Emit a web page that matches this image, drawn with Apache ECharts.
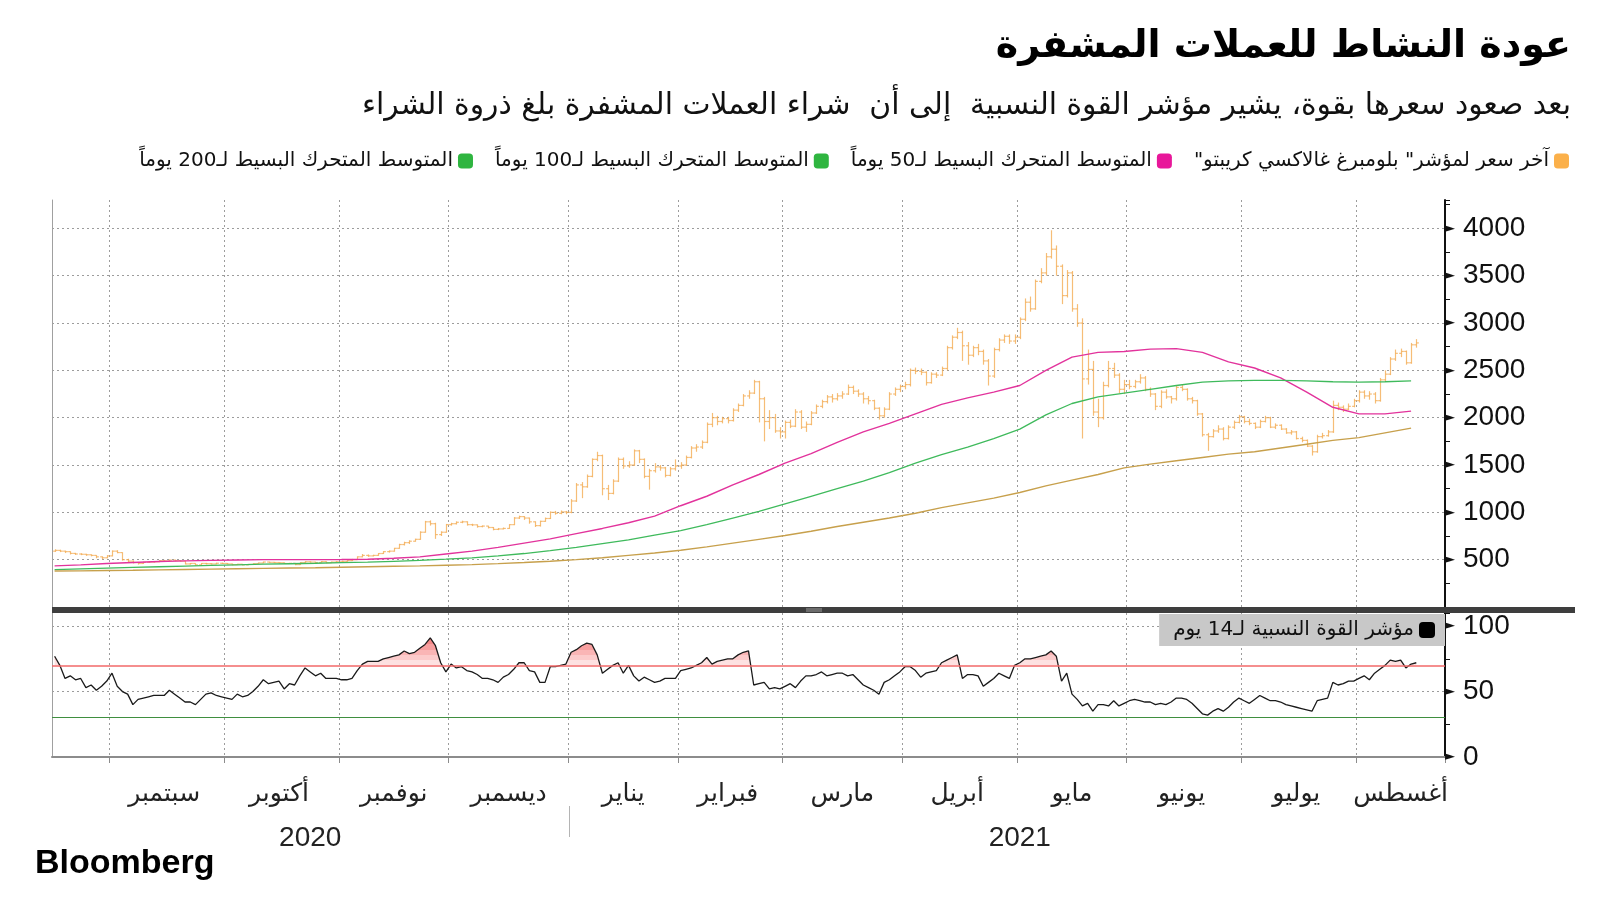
<!DOCTYPE html>
<html dir="rtl">
<head>
<meta charset="utf-8">
<script src="https://cdn.jsdelivr.net/npm/echarts/dist/echarts.min.js"></script>
<style>html,body{margin:0;padding:0;background:#fff}#c{width:1600px;height:900px}</style>
</head>
<body>
<div id="c"></div>
<script>
// ---------------- text ----------------
const TITLE = 'عودة النشاط للعملات المشفرة';
const SUBTITLE = 'بعد صعود سعرها بقوة، يشير مؤشر القوة النسبية  إلى أن  شراء العملات المشفرة بلغ ذروة الشراء';
const SERIES_NAMES = [
  'آخر سعر لمؤشر" بلومبرغ غالاكسي كريبتو"',
  'المتوسط المتحرك البسيط لـ50 يوماً',
  'المتوسط المتحرك البسيط لـ100 يوماً',
  'المتوسط المتحرك البسيط لـ200 يوماً',
  'مؤشر القوة النسبية لـ14 يوم'
];
const MONTH_NAMES = ['يناير','فبراير','مارس','أبريل','مايو','يونيو','يوليو','أغسطس','سبتمبر','أكتوبر','نوفمبر','ديسمبر'];
const SOURCE = 'Bloomberg';

// ---------------- axis ----------------
const FIRST_DAY = '2020-08-17';   // first trading day shown
const LAST_DAY = '2021-08-24';    // last category on the axis (axis runs a little past the data)
const YEAR_LABEL_AT = ['2020-10-23', '2021-05-03'];
const PRICE_TICKS = [500, 1000, 1500, 2000, 2500, 3000, 3500, 4000];
const RSI_TICKS = [0, 50, 100];
const RSI_OVERBOUGHT = 70;
const RSI_OVERSOLD = 30;

// ---------------- daily OHLC (weekdays, from 2020-08-17) ----------------
const open = [
  590,598,590,585,566,560,557,552,545,530,520,
  540,590,575,500,485,470,460,472,475,478,490,488,495,490,485,455,460,445,460,458,455,462,
  460,455,448,452,445,450,458,465,475,472,470,468,460,462,448,470,478,475,470,480,468,475,
  478,482,490,500,530,545,540,545,565,585,590,620,660,680,695,715,790,900,880,765,790,
  870,880,895,900,870,868,850,855,840,820,825,830,870,940,955,940,900,860,905,935,1000,990,1005,
  1000,1120,1290,1270,1380,1560,1600,1250,1200,1330,1560,1490,1500,1650,1560,1380,1440,1480,1470,1390,1460,
  1490,1500,1580,1680,1690,1740,1930,2000,1960,1990,1970,2080,2130,2230,2260,2380,2200,1960,2000,1860,
  1850,1950,1910,2060,1900,1930,2050,2120,2170,2220,2200,2230,2250,2320,2280,2250,2200,2180,2100,2020,2090,2250,2300,
  2330,2350,2500,2490,2480,2370,2460,2450,2520,2740,2850,2900,2760,2660,2740,2700,2600,2440,2720,2820,2860,2810,
  2850,3040,3220,3150,3440,3530,3700,3780,3600,3290,3530,3150,3000,2410,2510,2060,2000,2340,2520,2450,2300,
  2350,2330,2380,2420,2300,2250,2120,2270,2220,2200,2320,2300,2200,2180,2040,1820,1800,1860,1880,1780,1900,1950,
  2010,1960,1940,1900,1960,2000,1900,1920,1880,1840,1850,1780,1760,1700,1640,1800,1810,1850,2130,2110,2090,2120,
  2180,2270,2230,2250,2180,2400,2460,2620,2680,2700,2580,2770
];
const close = [
  598,590,585,566,560,557,552,545,530,520,540,
  590,575,500,485,470,460,472,475,478,490,488,495,490,485,455,460,445,460,458,455,462,460,
  455,448,452,445,450,458,465,475,472,470,468,460,462,448,470,478,475,470,480,468,475,478,
  482,490,500,530,545,540,545,565,585,590,620,660,680,695,715,790,900,880,765,790,870,
  880,895,900,870,868,850,855,840,820,825,830,870,940,955,940,900,860,905,935,1000,990,1005,1000,
  1120,1290,1270,1380,1560,1600,1250,1200,1330,1560,1490,1500,1650,1560,1380,1440,1480,1470,1390,1460,1490,
  1500,1580,1680,1690,1740,1930,2000,1960,1990,1970,2080,2130,2230,2260,2380,2200,1960,2000,1860,1850,
  1950,1910,2060,1900,1930,2050,2120,2170,2220,2200,2230,2250,2320,2280,2250,2200,2180,2100,2020,2090,2250,2300,2330,
  2350,2500,2490,2480,2370,2460,2450,2520,2740,2850,2900,2760,2660,2740,2700,2600,2440,2720,2820,2860,2810,2850,
  3040,3220,3150,3440,3530,3700,3780,3600,3290,3530,3150,3000,2410,2510,2060,2000,2340,2520,2450,2300,2350,
  2330,2380,2420,2300,2250,2120,2270,2220,2200,2320,2300,2200,2180,2040,1820,1800,1860,1880,1780,1900,1950,2010,
  1960,1940,1900,1960,2000,1900,1920,1880,1840,1850,1780,1760,1700,1640,1800,1810,1850,2130,2110,2090,2120,2180,
  2270,2230,2250,2180,2400,2460,2620,2680,2700,2580,2770,2790
];
const high = [
  610,605,595,588,572,568,562,556,548,535,548,
  598,600,578,510,492,475,478,482,485,495,498,502,500,495,488,465,462,465,466,462,468,468,
  465,458,456,455,455,462,470,480,478,476,472,470,466,465,475,485,482,478,486,482,480,485,
  490,496,508,535,560,555,552,570,590,598,625,668,690,705,722,800,910,915,890,800,878,
  890,905,912,905,880,872,862,858,845,835,840,875,950,965,960,945,905,912,945,1010,1015,1020,1015,
  1140,1310,1320,1400,1570,1640,1610,1290,1350,1580,1580,1540,1665,1660,1570,1460,1520,1500,1480,1480,1560,
  1530,1600,1700,1720,1760,1950,2050,2020,2010,2010,2100,2150,2250,2290,2400,2390,2220,2080,2040,1900,
  1970,1980,2090,2080,1960,2070,2140,2190,2240,2250,2260,2280,2350,2340,2300,2270,2230,2190,2110,2110,2270,2320,2350,
  2380,2520,2530,2520,2490,2480,2480,2540,2760,2870,2950,2920,2800,2760,2780,2720,2620,2740,2840,2880,2880,2880,
  3060,3260,3280,3460,3580,3740,3980,3820,3620,3560,3550,3200,3050,2720,2600,2200,2380,2600,2580,2470,2400,
  2400,2400,2460,2440,2320,2260,2290,2300,2230,2340,2350,2310,2220,2190,2050,1840,1880,1920,1900,1920,1970,2030,
  2020,1990,1950,1980,2020,2010,1940,1930,1890,1870,1860,1800,1770,1710,1820,1840,1870,2180,2160,2130,2150,2200,
  2290,2290,2280,2270,2420,2500,2640,2720,2730,2710,2790,2830
];
const low = [
  582,580,570,555,550,548,540,535,515,505,515,
  535,568,490,465,460,448,455,465,468,474,482,484,484,480,450,448,438,442,450,448,452,454,
  450,440,444,440,442,448,455,462,466,465,460,455,456,442,445,466,468,462,468,462,465,470,
  472,478,486,498,525,530,535,540,560,575,585,615,650,665,690,710,785,860,720,750,785,
  860,872,885,860,855,838,842,830,810,812,820,825,865,930,920,880,845,850,900,930,975,980,980,
  990,1110,1150,1260,1370,1540,1180,1130,1190,1320,1460,1470,1490,1520,1360,1240,1420,1440,1370,1380,1440,
  1460,1490,1570,1640,1670,1730,1900,1920,1940,1940,1960,2060,2120,2200,2250,1950,1750,1880,1840,1780,
  1780,1890,1900,1880,1850,1920,2040,2100,2150,2160,2180,2200,2240,2250,2220,2150,2140,2080,1980,2000,2080,2230,2270,
  2300,2330,2460,2450,2340,2360,2420,2440,2500,2720,2830,2600,2560,2640,2660,2560,2340,2420,2700,2790,2780,2780,
  2830,3020,3120,3140,3420,3500,3680,3500,3200,3270,3120,2960,1780,2350,2020,1900,1980,2320,2420,2260,2250,
  2300,2310,2360,2280,2220,2080,2100,2200,2150,2180,2280,2180,2150,2020,1800,1650,1790,1840,1760,1770,1880,1940,
  1940,1920,1880,1890,1950,1890,1880,1870,1830,1820,1770,1740,1690,1600,1630,1780,1800,1840,2080,2060,2080,2110,
  2160,2200,2190,2150,2170,2380,2450,2600,2640,2560,2570,2740
];

// ---------------- simple moving averages, read every 5th trading day ----------------
const MA_STEP = 5;
const sma50 = [
  435,445,460,470,480,487,493,497,500,500,
  500,502,505,515,530,560,590,630,675,720,
  775,830,890,960,1070,1170,1290,1400,1520,1620,
  1740,1850,1940,2040,2140,2210,2270,2340,2500,2640,
  2690,2700,2725,2730,2690,2590,2525,2420,2270,2110,
  2040,2040,2070
];
const sma100 = [
  395,402,410,418,425,432,440,446,452,457,
  462,468,475,483,492,505,520,540,565,595,
  630,670,710,760,808,870,940,1010,1090,1170,
  1250,1330,1420,1520,1610,1690,1780,1880,2030,2150,
  2220,2260,2300,2340,2375,2390,2395,2395,2390,2380,
  2375,2380,2390
];
const sma200 = [
  380,382,385,388,392,396,400,404,408,412,
  415,420,425,430,435,441,448,458,470,484,
  500,520,545,570,600,635,675,715,755,800,
  850,895,940,990,1050,1100,1150,1210,1280,1340,
  1400,1470,1510,1545,1580,1615,1640,1680,1720,1760,
  1790,1840,1890
];

// ---------------- 14-day RSI (daily) ----------------
const rsi = [
  77,70,60,62,59,60,53,55,51,54,58,
  64,54,50,48,40,44,45,46,47,47,47,51,48,45,42,42,40,44,48,49,47,46,
  45,44,48,46,47,50,54,59,56,57,58,52,56,55,62,68,65,62,64,60,60,60,
  59,59,60,66,71,73,73,73,75,76,77,78,81,79,80,83,86,91,85,72,65,
  71,68,69,66,65,63,60,60,59,57,61,63,67,72,72,66,65,57,57,69,69,70,71,
  80,82,85,87,86,78,64,67,70,72,64,70,62,58,61,59,57,58,60,60,60,
  66,67,68,70,72,76,71,73,74,75,75,78,80,81,55,56,57,52,53,52,
  54,56,53,58,62,62,63,65,62,63,64,64,62,63,59,55,53,51,48,57,59,62,65,
  69,69,66,61,64,65,66,72,74,76,78,60,63,63,62,54,57,60,64,62,60,70,
  72,75,75,76,77,78,81,77,58,64,48,44,39,41,35,40,40,39,43,39,41,
  43,44,43,42,42,40,41,40,42,45,45,44,41,37,33,32,35,37,35,38,42,45,
  43,41,44,47,45,43,43,42,40,39,38,37,36,35,43,44,45,57,55,56,58,58,
  60,62,59,64,67,70,74,73,74,68,71,72
];

// ---------------- styling ----------------
const AR = "'DejaVu Sans', sans-serif";
const NUM = "'Liberation Sans', Arial, sans-serif";
const C_PRICE = '#f4ad55';
const C_SMA50 = '#e2339c';
const C_SMA100 = '#3fba5c';
const C_SMA200 = '#c7a04c';
const LEGEND_COLORS = ['#fbb04a', '#e8179a', '#2fb540', '#2fb540', '#000000'];
const GRID_COLOR = '#9c9c9c';
const RSI_FILL = [
  { gte: 70, lt: 74, color: '#fde1e1' },
  { gte: 74, lt: 78, color: '#fccbcb' },
  { gte: 78, lt: 82, color: '#fab5b5' },
  { gte: 82, lt: 86, color: '#f89f9f' },
  { gte: 86, lt: 90, color: '#f58888' },
  { gte: 90, color: '#f37474' }
];

// ---------------- categories (weekdays) ----------------
const categories = [];
for (let d = new Date(FIRST_DAY + 'T00:00:00Z'); d <= new Date(LAST_DAY + 'T00:00:00Z'); d.setUTCDate(d.getUTCDate() + 1)) {
  const wd = d.getUTCDay();
  if (wd === 0 || wd === 6) continue;
  categories.push(d.toISOString().slice(0, 10));
}
const monthStart = new Set();
const yearStarts = [];
categories.forEach((d, i) => {
  if (i > 0 && d.slice(0, 7) !== categories[i - 1].slice(0, 7)) monthStart.add(i);
  if (i > 0 && d.slice(0, 4) !== categories[i - 1].slice(0, 4)) yearStarts.push(i);
});
const monthLabelIdx = new Set();
(function () {
  const groups = {};
  categories.forEach((d, i) => {
    const k = d.slice(0, 7);
    if (!groups[k]) groups[k] = [i, i]; else groups[k][1] = i;
  });
  Object.values(groups).forEach(([a, b]) => { if (b - a + 1 >= 12) monthLabelIdx.add(Math.floor((a + b) / 2)); });
})();
const yearLabelIdx = new Set(YEAR_LABEL_AT.map(d => categories.indexOf(d)));

const ohlcData = close.map((c, i) => [i, open[i], c, low[i], high[i]]);
const maSeries = arr => arr.map((v, k) => [k * MA_STEP, v]);

function renderOHLC(params, api) {
  const i = api.value(0);
  const pH = api.coord([i, api.value(4)]);
  const pL = api.coord([i, api.value(3)]);
  const yO = api.coord([i, api.value(1)])[1];
  const yC = api.coord([i, api.value(2)])[1];
  const w = api.size([1, 0])[0] * 0.45;
  const x = Math.round(pH[0]) + 0.5;
  const style = { stroke: C_PRICE, lineWidth: 1.2, opacity: 0.8 };
  return {
    type: 'group',
    children: [
      { type: 'line', shape: { x1: x, y1: pH[1], x2: x, y2: pL[1] }, style },
      { type: 'line', shape: { x1: x - w, y1: yO, x2: x, y2: yO }, style },
      { type: 'line', shape: { x1: x, y1: yC, x2: x + w, y2: yC }, style }
    ]
  };
}
function renderYearSeparator(params, api) {
  const cs = params.coordSys;
  const x = Math.round(api.coord([api.value(0), 0])[0] - api.size([1, 0])[0] / 2) + 0.5;
  return { type: 'line', shape: { x1: x, y1: cs.y, x2: x, y2: cs.y + cs.height }, style: { stroke: '#b4b4b4', lineWidth: 1 } };
}

const tickLabel = list => v => list.includes(v) ? '{a|►}{v|' + v + '}' : '';
const labelRich = {
  a: { fontSize: 13, color: '#111', fontFamily: AR, padding: [0, 8, 0, 0] },
  v: { fontSize: 28, color: '#111', fontFamily: NUM }
};
const monthSplit = {
  show: true, interval: i => monthStart.has(i), showMaxLine: false,
  lineStyle: { color: GRID_COLOR, type: [2, 3], width: 1 }
};
const hiddenAxis = { show: false };

const option = {
  animation: false,
  backgroundColor: '#ffffff',
  textStyle: { fontFamily: AR },
  title: [
    { text: TITLE, right: 24, top: 23, textStyle: { fontSize: 38, fontWeight: 'bold', color: '#000', fontFamily: AR } },
    { text: SUBTITLE, right: 24, top: 86, textStyle: { fontSize: 29.8, fontWeight: 'normal', color: '#111', fontFamily: AR } },
    { text: SOURCE, left: 30, top: 842, textStyle: { fontSize: 34, fontWeight: 'bold', color: '#000', fontFamily: NUM } }
  ],
  legend: [
    {
      data: [3, 2, 1, 0].map(k => ({ name: SERIES_NAMES[k], itemStyle: { color: LEGEND_COLORS[k], borderWidth: 0 } })),
      right: 26, top: 146, align: 'right', itemGap: 22, itemWidth: 15, itemHeight: 15,
      icon: 'roundRect', selectedMode: false,
      lineStyle: { width: 0 },
      textStyle: { fontSize: 20, color: '#111', fontFamily: AR }
    },
    {
      data: [{ name: SERIES_NAMES[4], itemStyle: { color: LEGEND_COLORS[4], borderWidth: 0 } }],
      right: 155, top: 614, align: 'right', itemWidth: 16, itemHeight: 16, icon: 'roundRect',
      selectedMode: false, backgroundColor: '#c8c8c8', padding: [6, 10, 6, 14], borderRadius: 0,
      lineStyle: { width: 0 },
      textStyle: { fontSize: 20, color: '#111', fontFamily: AR }
    }
  ],
  grid: [
    { left: 52, right: 155, top: 200, height: 407 },
    { left: 52, right: 155, top: 613, height: 144 },
    { left: 52, right: 155, top: 806, height: 31 }
  ],
  xAxis: [
    {
      type: 'category', gridIndex: 0, data: categories, boundaryGap: true,
      axisLine: { show: false }, axisTick: { show: false }, axisLabel: { show: false },
      splitLine: monthSplit
    },
    {
      type: 'category', gridIndex: 1, data: categories, boundaryGap: true,
      axisLine: { show: true, onZero: false, lineStyle: { color: '#8c8c8c', width: 2 } },
      axisTick: { show: true, interval: i => monthStart.has(i), length: 6, lineStyle: { color: '#8c8c8c' } },
      axisLabel: {
        interval: i => monthLabelIdx.has(i),
        formatter: v => MONTH_NAMES[+v.slice(5, 7) - 1],
        margin: 25, fontSize: 25, color: '#222', fontFamily: AR
      },
      splitLine: monthSplit
    },
    {
      type: 'category', gridIndex: 1, data: categories, boundaryGap: true, position: 'bottom', offset: 49,
      axisLine: { show: false }, axisTick: { show: false },
      axisLabel: {
        interval: i => yearLabelIdx.has(i), formatter: v => v.slice(0, 4),
        margin: 18, fontSize: 28, color: '#222', fontFamily: NUM
      },
      splitLine: { show: false }
    },
    {
      type: 'category', gridIndex: 2, data: categories, boundaryGap: true,
      axisLine: hiddenAxis, axisTick: hiddenAxis, axisLabel: hiddenAxis, splitLine: hiddenAxis
    }
  ],
  yAxis: [
    {
      type: 'value', gridIndex: 0, position: 'right', min: 0, max: 4300, interval: 250,
      axisLine: { show: true, lineStyle: { color: '#111', width: 2 } },
      axisTick: { show: true, length: 5, lineStyle: { color: '#111' } },
      axisLabel: { margin: 0, formatter: tickLabel(PRICE_TICKS), rich: labelRich },
      splitLine: { show: false }
    },
    {
      type: 'value', gridIndex: 0, position: 'left', min: 0, max: 4300, interval: 500,
      axisLine: { show: true, lineStyle: { color: '#a0a0a0', width: 1 } },
      axisTick: { show: false }, axisLabel: { show: false },
      splitLine: { show: true, showMinLine: false, showMaxLine: false, lineStyle: { color: GRID_COLOR, type: [2, 3], width: 1 } }
    },
    {
      type: 'value', gridIndex: 1, position: 'right', min: 0, max: 110, interval: 25,
      axisLine: { show: true, lineStyle: { color: '#111', width: 2 } },
      axisTick: { show: true, length: 5, lineStyle: { color: '#111' } },
      axisLabel: { margin: 0, formatter: tickLabel(RSI_TICKS), rich: labelRich },
      splitLine: { show: false }
    },
    {
      type: 'value', gridIndex: 1, position: 'left', min: 0, max: 110, interval: 50,
      axisLine: { show: true, lineStyle: { color: '#a0a0a0', width: 1 } },
      axisTick: { show: false }, axisLabel: { show: false },
      splitLine: { show: true, showMaxLine: false, lineStyle: { color: GRID_COLOR, type: [2, 3], width: 1 } }
    },
    {
      type: 'value', gridIndex: 2, min: 0, max: 1,
      axisLine: hiddenAxis, axisTick: hiddenAxis, axisLabel: hiddenAxis, splitLine: hiddenAxis
    }
  ],
  visualMap: [{
    type: 'piecewise', show: false, seriesIndex: 4, dimension: 1,
    pieces: [{ lt: RSI_OVERBOUGHT, color: 'rgba(255,255,255,0)' }].concat(RSI_FILL)
  }],
  series: [
    {
      name: SERIES_NAMES[0], type: 'custom', xAxisIndex: 0, yAxisIndex: 0,
      renderItem: renderOHLC, data: ohlcData, encode: { x: 0, y: [1, 2, 3, 4] },
      itemStyle: { color: C_PRICE }, clip: true, z: 2
    },
    {
      name: SERIES_NAMES[1], type: 'line', xAxisIndex: 0, yAxisIndex: 0, data: maSeries(sma50),
      showSymbol: false, symbol: 'none', lineStyle: { color: C_SMA50, width: 1.4 }, itemStyle: { color: C_SMA50 }, z: 3
    },
    {
      name: SERIES_NAMES[2], type: 'line', xAxisIndex: 0, yAxisIndex: 0, data: maSeries(sma100),
      showSymbol: false, symbol: 'none', lineStyle: { color: C_SMA100, width: 1.3 }, itemStyle: { color: C_SMA100 }, z: 3
    },
    {
      name: SERIES_NAMES[3], type: 'line', xAxisIndex: 0, yAxisIndex: 0, data: maSeries(sma200),
      showSymbol: false, symbol: 'none', lineStyle: { color: C_SMA200, width: 1.4 }, itemStyle: { color: C_SMA200 }, z: 3
    },
    {
      name: 'rsi-fill', type: 'line', xAxisIndex: 1, yAxisIndex: 2, data: rsi,
      showSymbol: false, symbol: 'none', lineStyle: { width: 0 },
      areaStyle: { opacity: 1 }, z: 2, silent: true
    },
    {
      name: SERIES_NAMES[4], type: 'line', xAxisIndex: 1, yAxisIndex: 2, data: rsi,
      showSymbol: false, symbol: 'none', lineStyle: { color: '#1a1a1a', width: 1.3 }, itemStyle: { color: '#000' }, z: 4,
      markLine: {
        silent: true, symbol: ['none', 'none'], label: { show: false },
        data: [
          { yAxis: RSI_OVERBOUGHT, lineStyle: { color: '#f26868', width: 1.6, type: 'solid' } },
          { yAxis: RSI_OVERSOLD, lineStyle: { color: '#3f8f3f', width: 1.2, type: 'solid' } }
        ]
      }
    },
    {
      name: 'year-separator', type: 'custom', xAxisIndex: 3, yAxisIndex: 4,
      renderItem: renderYearSeparator, data: yearStarts.map(i => [i, 0]), encode: { x: 0, y: 1 },
      silent: true, clip: false
    }
  ],
  graphic: [
    { type: 'rect', shape: { x: 52, y: 607, width: 1523, height: 6 }, style: { fill: '#3e3e3e' }, z: 100 },
    { type: 'rect', shape: { x: 806, y: 608.5, width: 16, height: 1 }, style: { fill: '#9a9a9a' }, z: 101 },
    { type: 'rect', shape: { x: 806, y: 610.5, width: 16, height: 1 }, style: { fill: '#9a9a9a' }, z: 101 }
  ]
};

const chart = echarts.init(document.getElementById('c'), null, { renderer: 'canvas', width: 1600, height: 900 });
chart.setOption(option);
</script>
</body>
</html>
